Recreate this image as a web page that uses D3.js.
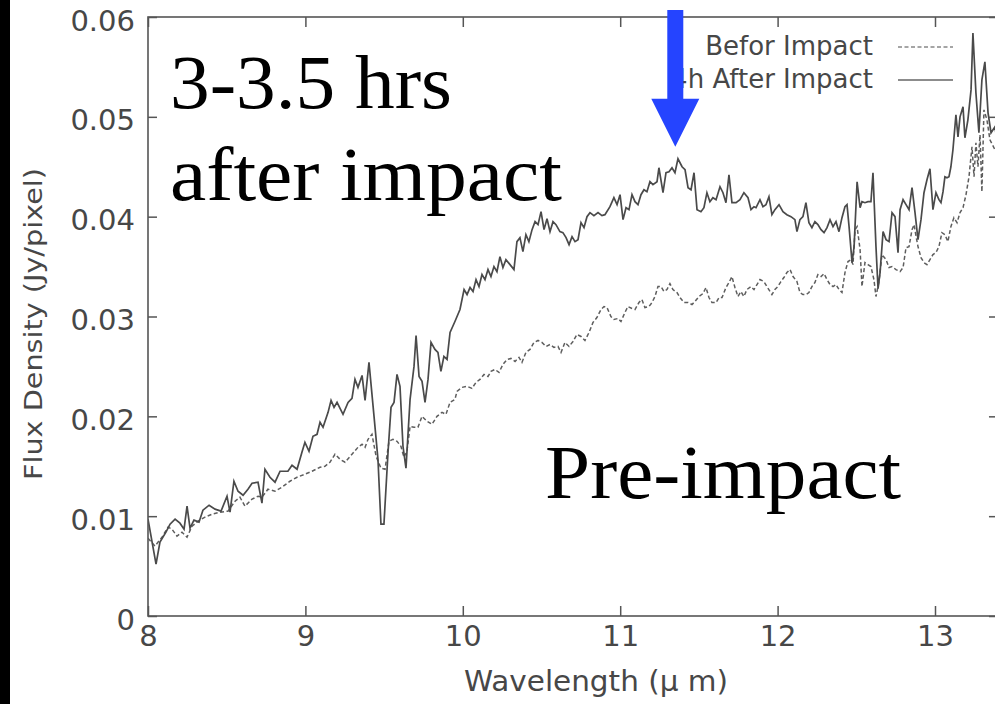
<!DOCTYPE html>
<html>
<head>
<meta charset="utf-8">
<script src="https://cdn.jsdelivr.net/npm/d3@7"></script>
<style>
  html, body { margin: 0; padding: 0; background: #fff; }
  svg { display: block; }
</style>
</head>
<body>
<div id="chart"></div>
<script>
// spectra: wavelength (um) and flux density (Jy/pixel)
const wlAfter = [8.000,8.051,8.076,8.114,8.140,8.172,8.203,8.229,8.248,8.267,8.292,8.324,8.349,8.388,8.426,8.464,8.502,8.521,8.546,8.572,8.604,8.635,8.661,8.699,8.724,8.743,8.775,8.807,8.839,8.889,8.915,8.947,8.978,8.997,9.023,9.048,9.074,9.093,9.112,9.144,9.163,9.182,9.201,9.239,9.271,9.296,9.315,9.334,9.360,9.379,9.404,9.436,9.461,9.480,9.499,9.525,9.544,9.563,9.582,9.601,9.620,9.639,9.665,9.690,9.703,9.722,9.741,9.760,9.779,9.798,9.823,9.842,9.861,9.880,9.900,9.919,9.950,9.982,10.008,10.027,10.046,10.065,10.084,10.103,10.122,10.141,10.160,10.179,10.198,10.217,10.236,10.255,10.274,10.300,10.325,10.344,10.363,10.382,10.401,10.420,10.440,10.459,10.478,10.497,10.516,10.535,10.554,10.573,10.592,10.617,10.636,10.656,10.675,10.694,10.713,10.732,10.751,10.770,10.789,10.808,10.833,10.859,10.884,10.903,10.935,10.960,10.980,10.999,11.018,11.037,11.056,11.075,11.094,11.113,11.132,11.151,11.170,11.189,11.208,11.234,11.246,11.272,11.291,11.310,11.329,11.348,11.367,11.393,11.412,11.431,11.450,11.469,11.488,11.513,11.532,11.551,11.570,11.589,11.609,11.634,11.653,11.672,11.691,11.710,11.736,11.761,11.786,11.812,11.831,11.850,11.863,11.888,11.907,11.926,11.945,11.964,11.983,12.009,12.034,12.059,12.085,12.110,12.123,12.142,12.161,12.180,12.199,12.218,12.237,12.256,12.276,12.295,12.314,12.333,12.352,12.371,12.390,12.409,12.428,12.441,12.454,12.473,12.486,12.505,12.524,12.536,12.555,12.574,12.593,12.606,12.625,12.638,12.651,12.670,12.689,12.708,12.727,12.746,12.765,12.778,12.797,12.816,12.835,12.854,12.873,12.892,12.911,12.930,12.949,12.968,12.987,13.006,13.025,13.038,13.051,13.063,13.076,13.089,13.101,13.114,13.133,13.146,13.159,13.178,13.190,13.209,13.229,13.241,13.260,13.279,13.298,13.317,13.337,13.356,13.381,13.400];
const fluxAfter = [.0097,.0052,.0074,.0084,.0092,.0097,.0093,.0087,.0110,.0088,.0096,.0094,.0106,.0111,.0107,.0105,.0120,.0104,.0135,.0125,.0121,.0127,.0133,.0134,.0113,.0147,.0139,.0134,.0145,.0145,.0151,.0147,.0164,.0174,.0165,.0180,.0182,.0194,.0189,.0204,.0216,.0209,.0214,.0202,.0214,.0218,.0237,.0229,.0241,.0216,.0254,.0200,.0157,.0092,.0092,.0164,.0209,.0214,.0242,.0230,.0170,.0148,.0217,.0250,.0281,.0240,.0235,.0214,.0237,.0274,.0267,.0264,.0245,.0260,.0257,.0284,.0295,.0307,.0327,.0322,.0329,.0325,.0337,.0330,.0342,.0337,.0347,.0340,.0350,.0345,.0360,.0349,.0357,.0352,.0347,.0375,.0379,.0365,.0382,.0375,.0387,.0395,.0392,.0405,.0387,.0398,.0385,.0395,.0392,.0385,.0384,.0379,.0372,.0380,.0375,.0377,.0394,.0389,.0400,.0404,.0401,.0404,.0401,.0402,.0410,.0419,.0412,.0422,.0397,.0409,.0407,.0422,.0415,.0412,.0422,.0427,.0425,.0435,.0432,.0435,.0449,.0424,.0444,.0445,.0449,.0444,.0458,.0450,.0447,.0429,.0427,.0444,.0407,.0405,.0409,.0424,.0415,.0419,.0417,.0430,.0424,.0414,.0442,.0414,.0414,.0417,.0424,.0419,.0407,.0410,.0409,.0417,.0410,.0412,.0420,.0402,.0407,.0412,.0405,.0402,.0400,.0397,.0385,.0397,.0400,.0414,.0394,.0389,.0395,.0392,.0387,.0384,.0389,.0397,.0390,.0395,.0385,.0399,.0410,.0412,.0390,.0354,.0370,.0435,.0409,.0415,.0414,.0415,.0415,.0444,.0370,.0328,.0344,.0385,.0377,.0375,.0404,.0400,.0364,.0407,.0417,.0412,.0407,.0429,.0404,.0377,.0397,.0424,.0437,.0448,.0407,.0424,.0417,.0414,.0425,.0440,.0439,.0440,.0450,.0467,.0502,.0480,.0500,.0510,.0479,.0497,.0527,.0584,.0524,.0484,.0537,.0555,.0504,.0484,.0490,.0470];

const wlBefore = [8.000,8.044,8.089,8.127,8.152,8.184,8.216,8.248,8.280,8.318,8.362,8.407,8.457,8.508,8.553,8.584,8.616,8.661,8.699,8.724,8.762,8.807,8.851,8.902,8.947,8.997,9.042,9.093,9.124,9.156,9.188,9.220,9.252,9.296,9.334,9.360,9.379,9.398,9.423,9.449,9.480,9.506,9.531,9.556,9.582,9.607,9.626,9.645,9.665,9.690,9.715,9.741,9.773,9.804,9.836,9.868,9.893,9.919,9.950,9.963,9.995,10.027,10.058,10.084,10.109,10.135,10.160,10.179,10.204,10.230,10.255,10.281,10.306,10.332,10.357,10.376,10.401,10.427,10.452,10.478,10.503,10.529,10.554,10.579,10.605,10.624,10.649,10.675,10.700,10.725,10.751,10.776,10.802,10.827,10.852,10.878,10.897,10.916,10.941,10.960,10.986,11.005,11.030,11.049,11.075,11.094,11.119,11.138,11.157,11.183,11.202,11.221,11.240,11.259,11.278,11.297,11.316,11.335,11.361,11.380,11.405,11.431,11.456,11.475,11.500,11.526,11.545,11.564,11.583,11.609,11.628,11.647,11.672,11.691,11.710,11.729,11.748,11.767,11.786,11.805,11.831,11.850,11.869,11.888,11.913,11.932,11.952,11.964,11.983,12.002,12.021,12.040,12.059,12.079,12.098,12.123,12.142,12.161,12.180,12.199,12.218,12.237,12.256,12.276,12.295,12.314,12.333,12.352,12.371,12.390,12.409,12.428,12.447,12.466,12.479,12.492,12.505,12.524,12.536,12.555,12.574,12.593,12.612,12.625,12.644,12.663,12.689,12.708,12.727,12.752,12.778,12.797,12.816,12.835,12.854,12.867,12.880,12.892,12.911,12.930,12.949,12.968,12.987,13.006,13.025,13.044,13.063,13.082,13.101,13.120,13.140,13.159,13.178,13.197,13.216,13.235,13.248,13.260,13.273,13.286,13.298,13.311,13.330,13.349,13.381,13.400];
const fluxBefore = [.0078,.0070,.0079,.0089,.0087,.0080,.0084,.0079,.0090,.0095,.0099,.0102,.0104,.0105,.0115,.0119,.0110,.0117,.0120,.0119,.0127,.0125,.0129,.0135,.0139,.0142,.0145,.0149,.0150,.0154,.0162,.0157,.0154,.0162,.0169,.0172,.0169,.0177,.0182,.0160,.0148,.0147,.0175,.0177,.0175,.0170,.0159,.0165,.0190,.0189,.0189,.0200,.0195,.0192,.0200,.0204,.0202,.0214,.0217,.0225,.0229,.0230,.0228,.0234,.0237,.0242,.0240,.0245,.0247,.0244,.0252,.0257,.0258,.0255,.0259,.0254,.0264,.0267,.0274,.0276,.0274,.0270,.0272,.0269,.0270,.0264,.0274,.0270,.0275,.0282,.0280,.0276,.0284,.0294,.0299,.0307,.0310,.0309,.0300,.0297,.0298,.0295,.0304,.0310,.0308,.0307,.0314,.0317,.0309,.0310,.0314,.0320,.0330,.0330,.0325,.0327,.0333,.0327,.0324,.0319,.0314,.0314,.0312,.0315,.0320,.0323,.0329,.0319,.0314,.0314,.0319,.0319,.0329,.0334,.0340,.0329,.0320,.0325,.0320,.0327,.0330,.0327,.0332,.0337,.0335,.0330,.0325,.0322,.0327,.0330,.0335,.0339,.0344,.0347,.0340,.0335,.0324,.0322,.0322,.0324,.0330,.0334,.0342,.0340,.0343,.0337,.0332,.0330,.0332,.0327,.0324,.0344,.0355,.0357,.0352,.0387,.0390,.0367,.0330,.0354,.0352,.0350,.0337,.0320,.0335,.0362,.0357,.0349,.0350,.0347,.0345,.0349,.0369,.0370,.0387,.0392,.0380,.0370,.0359,.0354,.0352,.0357,.0362,.0364,.0370,.0384,.0382,.0375,.0390,.0399,.0394,.0404,.0409,.0422,.0440,.0470,.0440,.0474,.0450,.0482,.0425,.0507,.0497,.0477,.0467,.0460];

const xTicks = [8, 9, 10, 11, 12, 13];
const yTicks = [0, 0.01, 0.02, 0.03, 0.04, 0.05, 0.06];
const legendLabels = ["Befor Impact", "4h After Impact"];

const width = 995;
const height = 704;
const margin = { left: 148, top: 17, bottom: 88 };

const svg = d3.select("#chart")
  .append("svg")
  .attr("width", width)
  .attr("height", height);

svg.append("rect")
  .attr("width", width)
  .attr("height", height)
  .attr("fill", "#fff");

// dark strip along the left edge of the photo
svg.append("rect")
  .attr("width", 10)
  .attr("height", height)
  .attr("fill", "#000");

const x = d3.scaleLinear().domain([8, 13.4]).range([margin.left, margin.left + 5.4 * 157.4]);
const y = d3.scaleLinear().domain([0, 0.06]).range([height - margin.bottom, margin.top]);

const tickFont = "'DejaVu Sans', sans-serif";
const inkColor = "#474747";

svg.append("defs").append("clipPath")
  .attr("id", "plot-clip")
  .append("rect")
  .attr("x", x.range()[0])
  .attr("y", y.range()[1])
  .attr("width", x.range()[1] - x.range()[0])
  .attr("height", y.range()[0] - y.range()[1]);

// series
const line = d3.line()
  .x(d => x(d[0]))
  .y(d => y(d[1]));

const plot = svg.append("g").attr("clip-path", "url(#plot-clip)");

plot.append("path")
  .datum(d3.zip(wlBefore, fluxBefore))
  .attr("fill", "none")
  .attr("stroke", "#5e5e5e")
  .attr("stroke-width", 1.5)
  .attr("stroke-dasharray", "4,2.5")
  .attr("d", line);

plot.append("path")
  .datum(d3.zip(wlAfter, fluxAfter))
  .attr("fill", "none")
  .attr("stroke", "#4a4a4a")
  .attr("stroke-width", 1.7)
  .attr("d", line);

// frame + axes (ticks point inward, mirrored on top/right)
const styleAxis = g => {
  g.select(".domain").remove();
  g.selectAll(".tick line").attr("stroke", "#555").attr("stroke-width", 1.5);
  g.selectAll(".tick text")
    .attr("fill", inkColor)
    .style("font-family", tickFont)
    .style("font-size", "29px");
};

svg.append("g")
  .attr("transform", `translate(0,${y(0)})`)
  .call(d3.axisBottom(x).tickValues(xTicks).tickSize(-10).tickPadding(9).tickFormat(d3.format("d")))
  .call(styleAxis);

svg.append("g")
  .attr("transform", `translate(0,${y(0.06)})`)
  .call(d3.axisTop(x).tickValues(xTicks).tickSize(-10).tickFormat(""))
  .call(styleAxis);

svg.append("g")
  .attr("transform", `translate(${x(8)},0)`)
  .call(d3.axisLeft(y).tickValues(yTicks).tickSize(-9).tickPadding(13)
    .tickFormat(d => d === 0 ? "0" : d3.format(".2f")(d)))
  .call(styleAxis)
  .call(g => g.selectAll(".tick text").attr("dy", "0.45em"));

svg.append("g")
  .attr("transform", `translate(${x(13.4)},0)`)
  .call(d3.axisRight(y).tickValues(yTicks).tickSize(-9).tickFormat(""))
  .call(styleAxis);

svg.append("rect")
  .attr("x", x(8))
  .attr("y", y(0.06))
  .attr("width", x(13.4) - x(8))
  .attr("height", y(0) - y(0.06))
  .attr("fill", "none")
  .attr("stroke", "#555")
  .attr("stroke-width", 1.6);

// axis titles
svg.append("text")
  .attr("x", 596)
  .attr("y", 691)
  .attr("text-anchor", "middle")
  .attr("textLength", 264)
  .attr("lengthAdjust", "spacingAndGlyphs")
  .attr("fill", inkColor)
  .style("font-family", tickFont)
  .style("font-size", "28px")
  .text("Wavelength (\u03bc m)");

svg.append("text")
  .attr("transform", "translate(42,324) rotate(-90)")
  .attr("text-anchor", "middle")
  .attr("textLength", 312)
  .attr("lengthAdjust", "spacingAndGlyphs")
  .attr("fill", inkColor)
  .style("font-family", tickFont)
  .style("font-size", "24px")
  .text("Flux Density (Jy/pixel)");

// legend
const legend = svg.append("g").attr("class", "legend");
const legendRows = legend.selectAll("g")
  .data(legendLabels)
  .enter().append("g")
  .attr("transform", (d, i) => `translate(0,${47 + i * 33})`);

legendRows.append("text")
  .attr("x", 873)
  .attr("y", 8)
  .attr("text-anchor", "end")
  .attr("fill", inkColor)
  .style("font-family", tickFont)
  .style("font-size", "26px")
  .text(d => d);

legendRows.append("line")
  .attr("x1", 898)
  .attr("x2", 953)
  .attr("stroke", (d, i) => i === 0 ? "#888" : "#666")
  .attr("stroke-width", 1.3)
  .attr("stroke-dasharray", (d, i) => i === 0 ? "4,2.5" : null);

// annotations
const serif = "'Liberation Serif', 'Times New Roman', serif";
const notes = [
  { text: "3-3.5 hrs", x: 170, y: 108, len: 282 },
  { text: "after impact", x: 170, y: 200, len: 392 },
  { text: "Pre-impact", x: 545, y: 498, len: 356 }
];
svg.selectAll("text.note")
  .data(notes)
  .enter().append("text")
  .attr("class", "note")
  .attr("x", d => d.x)
  .attr("y", d => d.y)
  .attr("textLength", d => d.len)
  .attr("lengthAdjust", "spacingAndGlyphs")
  .attr("fill", "#000")
  .style("font-family", serif)
  .style("font-size", "76px")
  .text(d => d.text);

// blue arrow pointing at the 11.35 um peak
const tipX = x(11.35);
const tipY = y(0.047);
const arrow = [
  [tipX - 8, 10], [tipX + 8, 10], [tipX + 8, tipY - 48], [tipX + 24, tipY - 48],
  [tipX, tipY], [tipX - 24, tipY - 48], [tipX - 8, tipY - 48]
];
svg.append("path")
  .attr("d", d3.line()(arrow) + "Z")
  .attr("fill", "#2544ff");
</script>
</body>
</html>
